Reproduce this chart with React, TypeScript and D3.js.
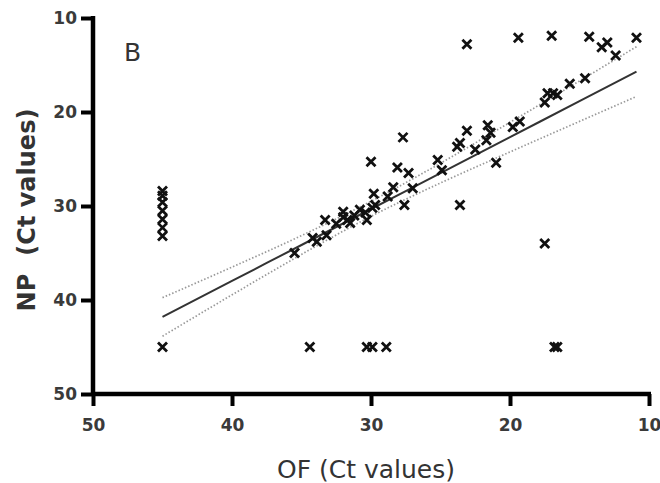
import React, { useEffect, useRef } from "react";
import * as d3 from "d3";

// OF Ct (x) vs NP Ct (y)
const ofValues = [
  45, 45, 45, 45, 45, 45, 45, 45,
  34.4, 30.3, 29.9, 28.9, 16.8, 16.6, 17.5,
  23.1, 19.4, 17.0, 14.3, 13.4, 13.0, 12.4, 10.9, 14.6, 15.7, 17.3, 16.9, 16.6, 17.5,
  23.1, 23.8, 23.6, 22.5, 21.6, 21.4, 21.7, 21.0, 19.8, 19.3, 25.2, 24.9, 23.6,
  27.7, 30.0, 28.1, 27.3, 28.4, 27.0, 28.8, 29.8, 27.6,
  32.0, 31.7, 31.5, 30.8, 30.4, 30.3, 29.7, 33.3, 34.2, 33.9, 33.2, 35.5, 32.0, 31.2, 32.5, 29.9,
];
const npValues = [
  28.4, 28.9, 29.6, 30.5, 31.4, 32.3, 33.2, 45,
  45, 45, 45, 45, 45, 45, 34.0,
  12.8, 12.1, 11.9, 12.0, 13.1, 12.6, 14.0, 12.1, 16.4, 17.0, 18.0, 18.0, 18.2, 19.0,
  22.0, 23.7, 23.3, 24.0, 21.4, 22.2, 23.0, 25.4, 21.6, 21.0, 25.1, 26.2, 29.9,
  22.7, 25.3, 25.9, 26.5, 28.0, 28.1, 29.0, 28.7, 29.9,
  30.6, 31.5, 31.8, 30.4, 30.7, 31.5, 29.9, 31.5, 33.4, 33.8, 33.1, 35.0, 31.2, 31.0, 31.9, 30.2,
];

// fit line and its confidence band
const fitX = [45, 40, 35, 30, 25, 20, 15, 10.9];
const fitY = [41.8, 37.97, 34.15, 30.32, 26.5, 22.67, 18.85, 15.7];
const bandUpper = [39.75, 36.5, 33.15, 29.5, 25.45, 21.1, 16.7, 13.05];
const bandLower = [43.85, 39.45, 35.15, 31.1, 27.55, 24.25, 21.0, 18.35];

const ticks = [50, 40, 30, 20, 10];

export default function App() {
  const ref = useRef<SVGSVGElement>(null);

  useEffect(() => {
    const svg = d3.select(ref.current);
    svg.selectAll("*").remove();

    const x = d3.scaleLinear().domain([50, 10]).range([93, 649]);
    const y = d3.scaleLinear().domain([10, 50]).range([18, 394]);
    const font = "'DejaVu Sans', Verdana, sans-serif";

    const g = svg.append("g");

    const line = d3.line<[number, number]>()
      .x(d => x(d[0]))
      .y(d => y(d[1]))
      .curve(d3.curveMonotoneX);

    [bandUpper, bandLower].forEach(band => {
      g.append("path")
        .attr("d", line(fitX.map((v, i) => [v, band[i]] as [number, number])))
        .attr("fill", "none")
        .attr("stroke", "#999")
        .attr("stroke-width", 1.7)
        .attr("stroke-dasharray", "1.5,2");
    });

    g.append("path")
      .attr("d", line(fitX.map((v, i) => [v, fitY[i]] as [number, number])))
      .attr("fill", "none")
      .attr("stroke", "#333")
      .attr("stroke-width", 2);

    const s = 4.5;
    g.append("g")
      .attr("stroke", "#111")
      .attr("stroke-width", 2.8)
      .selectAll("path")
      .data(ofValues.map((v, i) => [v, npValues[i]]))
      .join("path")
      .attr("d", d => {
        const cx = x(d[0]), cy = y(d[1]);
        return `M${cx - s},${cy - s}L${cx + s},${cy + s}M${cx - s},${cy + s}L${cx + s},${cy - s}`;
      });

    // axes
    const xAxis = svg.append("g")
      .attr("transform", `translate(0,${y(50)})`)
      .call(d3.axisBottom(x).tickValues(ticks).tickSize(12).tickPadding(8).tickFormat(d3.format("d")));
    const yAxis = svg.append("g")
      .attr("transform", `translate(${x(50)},0)`)
      .call(d3.axisLeft(y).tickValues(ticks).tickSize(12).tickPadding(4).tickFormat(d3.format("d")));

    [xAxis, yAxis].forEach(a => {
      a.select(".domain").attr("stroke", "#000").attr("stroke-width", 4.5);
      a.selectAll(".tick line").attr("stroke", "#000").attr("stroke-width", 4);
      a.selectAll(".tick text")
        .attr("fill", "#3a3a3a")
        .attr("font-size", 17)
        .attr("font-weight", "bold")
        .attr("font-family", font);
    });
    xAxis.selectAll(".tick text").attr("dy", "1em");
    // plain axis lines, no outer tick stubs
    xAxis.select(".domain").attr("d", `M${x(50)},0H${x(10) + 2}`);
    yAxis.select(".domain").attr("d", `M0,${y(10) - 2}V${y(50)}`);

    svg.append("text")
      .attr("x", 124)
      .attr("y", 61)
      .attr("font-size", 25)
      .attr("font-family", font)
      .attr("fill", "#333")
      .text("B");

    svg.append("text")
      .attr("x", 366)
      .attr("y", 478)
      .attr("text-anchor", "middle")
      .attr("font-size", 25)
      .attr("font-family", font)
      .attr("fill", "#333")
      .text("OF (Ct values)");

    const yl = svg.append("text")
      .attr("transform", `translate(35,210) rotate(-90)`)
      .attr("text-anchor", "middle")
      .attr("font-size", 24)
      .attr("font-weight", "bold")
      .attr("font-family", font)
      .attr("fill", "#333");
    yl.append("tspan").text("NP");
    yl.append("tspan").attr("dx", 18).text("(Ct values)");
  }, []);

  return (
    <svg
      ref={ref}
      width={660}
      height={483}
      style={{ position: "absolute", left: 0, top: 0, background: "#fff" }}
    />
  );
}
